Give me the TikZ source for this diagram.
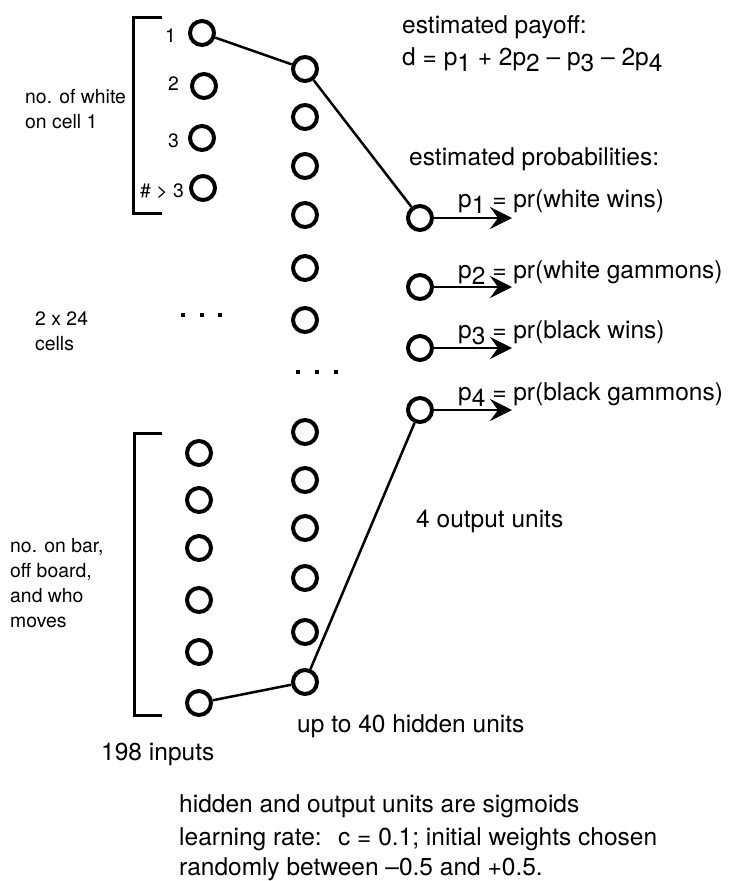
\documentclass[tikz,border=0pt]{standalone}
\usepackage{fontspec}
\setmainfont{TeX Gyre Heros}
\usetikzlibrary{arrows.meta}
\newcommand{\sbs}[1]{\raisebox{-0.28em}{#1}}
\begin{document}
\begin{tikzpicture}[x=1pt,y=-1pt,
  unit/.style={circle, draw, line width=4pt, minimum size=24pt, inner sep=0pt},
  big/.style={font=\fontsize{24.5}{25}\selectfont, inner sep=0pt, anchor=base west},
  small/.style={font=\fontsize{19.4}{25}\selectfont, inner sep=0pt, anchor=base west},
  numlab/.style={font=\fontsize{19.4}{25}\selectfont, inner sep=0pt, anchor=base east},
  wire/.style={line width=2.5pt},
  outarrow/.style={line width=2.5pt, -{Stealth[length=22pt, width=22pt, inset=8pt]}},
  bracket/.style={line width=3pt},
  dot/.style={fill=black}]
\useasboundingbox (0,0) rectangle (731,881);

% input units (top group)
\node[unit] (i1) at (202,33) {};
\node[unit] (i2) at (204,86) {};
\node[unit] (i3) at (202,138) {};
\node[unit] (i4) at (203,188) {};
% input units (bottom group)
\node[unit] (j1) at (199,453) {};
\node[unit] (j2) at (199,500) {};
\node[unit] (j3) at (199,548) {};
\node[unit] (j4) at (199,600) {};
\node[unit] (j5) at (199,652) {};
\node[unit] (j6) at (199,703) {};

% hidden units
\foreach \n/\y in {1/69,2/117,3/166,4/215,5/268,6/320,7/432,8/480,9/528,10/578,11/632,12/682}
  \node[unit] (h\n) at (305,\y) {};

% output units
\node[unit] (o1) at (420,218) {};
\node[unit] (o2) at (420,287) {};
\node[unit] (o3) at (420,348) {};
\node[unit] (o4) at (420,410) {};
\coordinate (t1) at (512,218);
\coordinate (t2) at (512,287);
\coordinate (t3) at (512,348);
\coordinate (t4) at (512,410);

% connectors
\draw[wire] (i1) -- (h1);
\draw[wire] (h1) -- (o1);
\draw[wire] (j6) -- (h12);
\draw[wire] (h12) -- (o4);
\draw[outarrow] (o1) -- (t1);
\draw[outarrow] (o2) -- (t2);
\draw[outarrow] (o3) -- (t3);
\draw[outarrow] (o4) -- (t4);

% brackets
\draw[bracket] (162,17) -- (133,17) -- (133,213) -- (162,213);
\draw[bracket] (162,433) -- (134,433) -- (134,715) -- (162,715);

% ellipsis dots
\foreach \x in {183,202,220} \fill[dot] (\x-1.6,313.4) rectangle ++(3.2,3.2);
\foreach \x in {298,317,336} \fill[dot] (\x-1.6,370.4) rectangle ++(3.2,3.2);

% input labels
\node[numlab] (l1) at (176,42) {1};
\node[numlab] (l2) at (179,90) {2};
\node[numlab] (l3) at (179,147) {3};
\node[numlab] (l4) at (184,197) {\# > 3};

% left texts
\node[small] (a1) at (25,103) {no. of white};
\node[small] (a2) at (25,128) {on cell 1};
\node[small] (b1) at (35,325) {2 x 24};
\node[small] (b2) at (35,350) {cells};
\node[small] (c1) at (10,552) {no. on bar,};
\node[small] (c2) at (10,577) {off board,};
\node[small] (c3) at (10,602) {and who};
\node[small] (c4) at (10,627) {moves};

% right texts
\node[big] (e1) at (402,33) {estimated payoff:};
\node[big] (e2) at (402,65) {d = p\sbs{1} + 2p\sbs{2} – p\sbs{3} – 2p\sbs{4}};
\node[big] (e3) at (409,165) {estimated probabilities:};
\node[big] (p1) at (458,207) {p\sbs{1} = pr(white wins)};
\node[big] (p2) at (458,278) {p\sbs{2} = pr(white gammons)};
\node[big] (p3) at (458,338) {p\sbs{3} = pr(black wins)};
\node[big] (p4) at (458,400) {p\sbs{4} = pr(black gammons)};
\node[big] (ou) at (416,527) {4 output units};
\node[big] (hu) at (297,732) {up to 40 hidden units};
\node[big] (in) at (101,760) {198 inputs};

% bottom notes
\node[big] (n1) at (179,812) {hidden and output units are sigmoids};
\node[big] (n2) at (179,845) {learning rate:\hspace{0.3em} c = 0.1; initial weights chosen};
\node[big] (n3) at (179,875) {randomly between –0.5 and +0.5.};
\end{tikzpicture}
\end{document}
